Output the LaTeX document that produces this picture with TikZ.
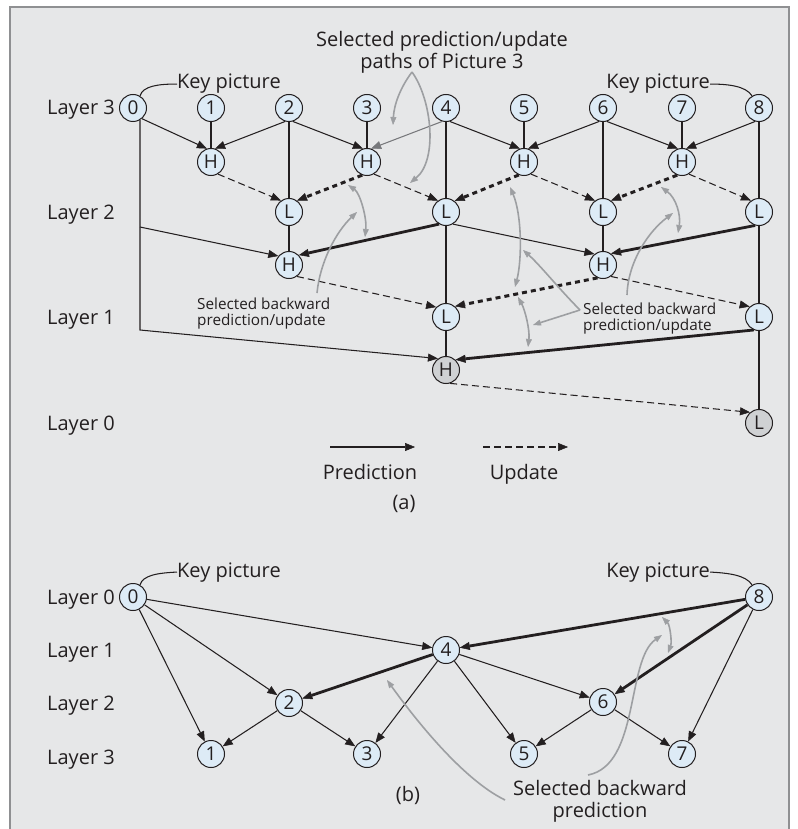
\documentclass[tikz,border=0pt]{standalone}
\usepackage{fontspec}
\setmainfont{Open Sans}
\usepackage{xcolor}
\usepackage{tikz}
\usetikzlibrary{arrows.meta}
\definecolor{panelbg}{HTML}{E6E7E8}
\definecolor{panelframe}{HTML}{8F9092}
\definecolor{picblue}{HTML}{DDEBF6}
\definecolor{picgray}{HTML}{CFD1D3}
\definecolor{ink}{HTML}{231F20}
\definecolor{notegray}{HTML}{9D9FA2}
\definecolor{pathgray}{HTML}{77787B}

\begin{document}
\begin{tikzpicture}[
  x=1pt, y=-1pt,
  picnode/.style={circle, draw=ink, line width=1pt, fill=picblue, minimum size=27pt,
                  inner sep=0pt, text=ink, font=\fontsize{19}{21}\selectfont},
  lowpass/.style={picnode, fill=picgray},
  layertxt/.style={anchor=base west, inner sep=0pt, text=ink, font=\fontsize{20}{22}\selectfont},
  txt/.style={inner sep=0pt, align=center, text=ink, font=\fontsize{20}{22}\selectfont},
  smalltxt/.style={anchor=north west, inner sep=0pt, align=left, text=ink,
                   font=\fontsize{15.3}{16}\selectfont},
  link/.style={draw=ink, line width=1.05pt},
  pred/.style={link, -{Triangle[length=10pt,width=8pt,line width=0.5pt]}},
  predsel/.style={pred, line width=2.8pt},
  upd/.style={pred, dash pattern=on 7pt off 4pt},
  updsel/.style={pred, line width=3pt, dash pattern=on 5pt off 4pt},
  note/.style={draw=notegray, line width=1.6pt, -{Triangle[length=8pt,width=6pt,line width=0.5pt]}},
  twoway/.style={note, {Triangle[length=8pt,width=6pt,line width=0.5pt]}-{Triangle[length=8pt,width=6pt,line width=0.5pt]}}
]
  \useasboundingbox (0,0) rectangle (797,829);
  \fill[white] (0,0) rectangle (797,829);
  \fill[panelbg] (10,7) rectangle (789,829);
  \draw[panelframe, line width=1.5pt] (10,829) -- (10,7) -- (789,7) -- (789,829);

  \node[layertxt] (layA3) at (47,115) {Layer 3};
  \node[layertxt] (layA2) at (47,219) {Layer 2};
  \node[layertxt] (layA1) at (47,324) {Layer 1};
  \node[layertxt] (layA0) at (47,430) {Layer 0};

  \node[picnode] (a0) at (133,108) {0};
  \node[picnode] (a1) at (211,108) {1};
  \node[picnode] (a2) at (289,108) {2};
  \node[picnode] (a3) at (367,108) {3};
  \node[picnode] (a4) at (446,108) {4};
  \node[picnode] (a5) at (524,108) {5};
  \node[picnode] (a6) at (603,108) {6};
  \node[picnode] (a7) at (682,108) {7};
  \node[picnode] (a8) at (759,108) {8};
  \node[picnode] (h31) at (211,162) {H};
  \node[picnode] (h33) at (367,162) {H};
  \node[picnode] (h35) at (524,162) {H};
  \node[picnode] (h37) at (682,162) {H};
  \node[picnode] (l32) at (289,212) {L};
  \node[picnode] (l34) at (446,212) {L};
  \node[picnode] (l36) at (603,212) {L};
  \node[picnode] (l38) at (759,212) {L};
  \node[picnode] (h22) at (289,265) {H};
  \node[picnode] (h26) at (603,265) {H};
  \node[picnode] (l14) at (446,317) {L};
  \node[picnode] (l18) at (759,317) {L};
  \node[lowpass] (h04) at (446,370) {H};
  \node[lowpass] (l08) at (759,423) {L};

  \node[layertxt] (keyA1) at (177,89) {Key picture};
  \node[layertxt, anchor=base east] (keyA2) at (710,89) {Key picture};
  \node[txt] (selA) at (442,52.6) {Selected prediction/update\\paths of Picture 3};
  \node[smalltxt] (bwA) at (197,298) {Selected backward\\prediction/update};
  \node[smalltxt] (bwB) at (583,303) {Selected backward\\prediction/update};

  \coordinate (branchA) at (140,227);
  \coordinate (cornA) at (140,330);

  \draw[link] (a0.60) .. controls (143,86) and (158,84) .. (keyA1.west);
  \draw[link] (keyA2.east) .. controls (728,84) and (746,86) .. (a8.120);

  \draw[pred] (a0.-50) -- (h31.107);
  \draw[link] (a1) -- (h31);
  \draw[pred] (a2.-106) -- (h31.73);
  \draw[pred] (a2.-74) -- (h33.107);
  \draw[link] (a3) -- (h33);
  \draw[pred, draw=pathgray] (a4.-106) -- (h33.73);
  \draw[pred] (a4.-74) -- (h35.107);
  \draw[link] (a5) -- (h35);
  \draw[pred] (a6.-106) -- (h35.73);
  \draw[pred] (a6.-74) -- (h37.107);
  \draw[link] (a7) -- (h37);
  \draw[pred] (a8.-106) -- (h37.73);
  \draw[link] (a2) -- (l32);
  \draw[link] (a4) -- (l34);
  \draw[link] (a6) -- (l36);
  \draw[link] (a8) -- (l38);
  \draw[upd] (h31.-60) -- (l32.125);
  \draw[updsel] (h33.-110) -- (l32.55);
  \draw[upd] (h33.-60) -- (l34.125);
  \draw[updsel] (h35.-112) -- (l34.52);
  \draw[upd] (h35.-60) -- (l36.125);
  \draw[updsel] (h37.-110) -- (l36.55);
  \draw[upd] (h37.-60) -- (l38.125);

  \draw[link] (l32) -- (h22);
  \draw[link] (l36) -- (h26);
  \draw[link] (l34) -- (l14);
  \draw[link] (l38) -- (l18);
  \draw[pred] (branchA) -- (h22.140);
  \draw[predsel] (l34.-120) -- (h22.45);
  \draw[pred] (l34.-60) -- (h26.128);
  \draw[predsel] (l38.-106) -- (h26.55);
  \draw[upd] (h22.-55) -- (l14.135);
  \draw[updsel] (h26.-113) -- (l14.50);
  \draw[upd] (h26.-55) -- (l18.132);

  \draw[link] (l14) -- (h04);
  \draw[link] (l18) -- (l08);
  \draw[pred] (a0.-60) -- (cornA) -- (h04.125);
  \draw[predsel] (l18.-112) -- (h04.47);
  \draw[upd] (h04.-73) -- (l08.130);

  \coordinate (selfork) at (412,72);
  \coordinate (selend1) at (393,125);
  \coordinate (selend2) at (410,183);
  \coordinate (arcA1) at (348,185);
  \coordinate (arcA2) at (365,237);
  \coordinate (bwAfoot) at (317,293);
  \coordinate (bwAtip) at (357,212);
  \coordinate (arcB1) at (510,187);
  \coordinate (arcB2) at (515,287);
  \coordinate (arcC1) at (518,297);
  \coordinate (arcC2) at (528,347);
  \coordinate (arcD1) at (661,187);
  \coordinate (arcD2) at (678,233);
  \coordinate (bwBfoot) at (627,295);
  \coordinate (bwBtip) at (673,213);
  \coordinate (bwBfork) at (580,310);
  \coordinate (bwBend1) at (523,250);
  \coordinate (bwBend2) at (533,325);

  \draw[note] (selfork) .. controls (400,88) and (394,105) .. (selend1);
  \draw[note] (selfork) .. controls (432,100) and (438,160) .. (selend2);
  \draw[twoway] (arcA1) .. controls (360,193) and (367,218) .. (arcA2);
  \draw[note] (bwAfoot) .. controls (320,262) and (336,232) .. (bwAtip);
  \draw[twoway] (arcB1) .. controls (522,215) and (522,260) .. (arcB2);
  \draw[twoway] (arcC1) .. controls (525,310) and (530,330) .. (arcC2);
  \draw[twoway] (arcD1) .. controls (676,198) and (681,215) .. (arcD2);
  \draw[note] (bwBfoot) .. controls (628,262) and (648,232) .. (bwBtip);
  \draw[note] (bwBfork) .. controls (560,290) and (540,265) .. (bwBend1);
  \draw[note] (bwBfork) -- (bwBend2);

  \coordinate (legP1) at (330,447);
  \coordinate (legP2) at (415,447);
  \coordinate (legU1) at (483,447);
  \coordinate (legU2) at (568,447);
  \draw[pred] (legP1) -- (legP2);
  \draw[upd] (legU1) -- (legU2);
  \node[txt, anchor=base] (legP) at (370,479) {Prediction};
  \node[txt, anchor=base] (legU) at (524,479) {Update};
  \node[txt, anchor=base] (capA) at (404,509) {(a)};

  \node[layertxt] (layB0) at (47,604) {Layer 0};
  \node[layertxt] (layB1) at (47,657) {Layer 1};
  \node[layertxt] (layB2) at (47,710) {Layer 2};
  \node[layertxt] (layB3) at (47,764) {Layer 3};

  \node[picnode] (b0) at (133,597) {0};
  \node[picnode] (b8) at (759,597) {8};
  \node[picnode] (b4) at (446,650) {4};
  \node[picnode] (b2) at (289,703) {2};
  \node[picnode] (b6) at (603,702) {6};
  \node[picnode] (b1) at (211,754) {1};
  \node[picnode] (b3) at (367,754) {3};
  \node[picnode] (b5) at (524,754) {5};
  \node[picnode] (b7) at (682,754) {7};

  \node[layertxt] (keyB1) at (177,577) {Key picture};
  \node[layertxt, anchor=base east] (keyB2) at (710,577) {Key picture};
  \node[txt] (bwC) at (600,801) {Selected backward\\prediction};
  \node[txt, anchor=base] (capB) at (408,801) {(b)};

  \draw[link] (b0.60) .. controls (143,575) and (158,573) .. (keyB1.west);
  \draw[link] (keyB2.east) .. controls (728,573) and (746,575) .. (b8.120);

  \draw[pred] (b0) -- (b4);
  \draw[pred] (b0) -- (b2);
  \draw[pred] (b0) -- (b1);
  \draw[predsel] (b8) -- (b4);
  \draw[predsel] (b8) -- (b6);
  \draw[pred] (b8) -- (b7);
  \draw[predsel] (b4) -- (b2);
  \draw[pred] (b4) -- (b3);
  \draw[pred] (b4) -- (b5);
  \draw[pred] (b4) -- (b6);
  \draw[pred] (b2) -- (b1);
  \draw[pred] (b2) -- (b3);
  \draw[pred] (b6) -- (b5);
  \draw[pred] (b6) -- (b7);

  \coordinate (arcE1) at (662,617);
  \coordinate (arcE2) at (668,653);
  \coordinate (bwCfoot) at (588,775);
  \coordinate (bwCtip) at (662,635);
  \coordinate (bwCside) at (505,800);
  \coordinate (bwCtip2) at (387,680);
  \draw[twoway] (arcE1) .. controls (670,625) and (672,642) .. (arcE2);
  \draw[note] (bwCfoot) .. controls (640,765) and (626,660) .. (bwCtip);
  \draw[note] (bwCside) .. controls (460,778) and (410,712) .. (bwCtip2);
\end{tikzpicture}
\end{document}
